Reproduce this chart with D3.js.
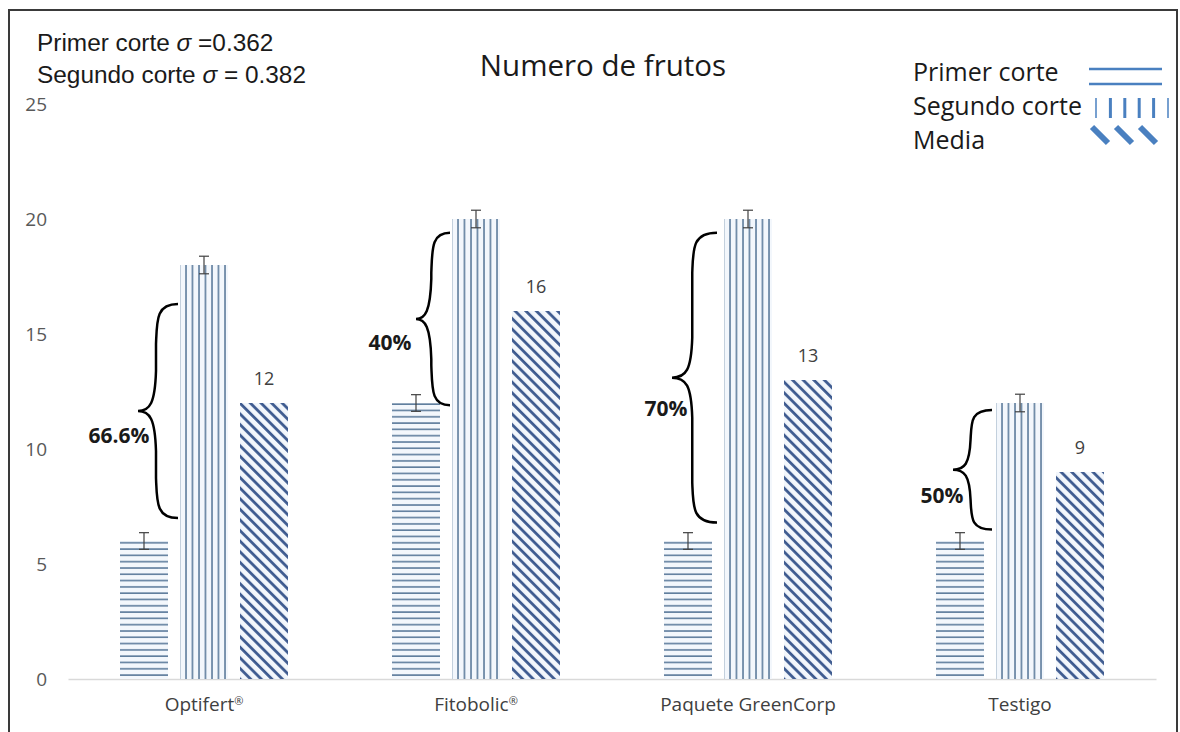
<!DOCTYPE html>
<html>
<head>
<meta charset="utf-8">
<script src="https://cdn.jsdelivr.net/npm/d3@7"></script>
<style>
  body { margin: 0; background: #fff; }
  svg { display: block; }
</style>
</head>
<body>
<div id="chart"></div>
<script>
const categories = ["Optifert®", "Fitobolic®", "Paquete GreenCorp", "Testigo"];
const series = ["Primer corte", "Segundo corte", "Media"];
const primer = [6, 12, 6, 6];
const segundo = [18, 20, 20, 12];
const media = [12, 16, 13, 9];
const errPrimer = 0.362;
const errSegundo = 0.382;
const yTicks = [0, 5, 10, 15, 20, 25];
// curly-brace annotations: top / bottom in data units
const braceTop = [16.3, 19.4, 19.4, 11.7];
const braceBottom = [7.0, 11.9, 6.8, 6.5];
const braceLabels = ["66.6%", "40%", "70%", "50%"];

const W = 1180, H = 732;
const svg = d3.select("#chart").append("svg").attr("width", W).attr("height", H);

const defs = svg.append("defs");
const barColor = "#5f7d9d";
const diagColor = "#3d5a8f";
const bg = "#f3f7fc";

const pH = defs.append("pattern").attr("id", "p-h").attr("patternUnits", "userSpaceOnUse")
  .attr("width", 10).attr("height", 6.3);
pH.append("rect").attr("width", 10).attr("height", 6.3).attr("fill", bg);
pH.append("line").attr("x1", 0).attr("x2", 10).attr("y1", 1).attr("y2", 1)
  .attr("stroke", barColor).attr("stroke-width", 1.6);

const pV = defs.append("pattern").attr("id", "p-v").attr("patternUnits", "userSpaceOnUse")
  .attr("width", 6.5).attr("height", 10);
pV.append("rect").attr("width", 6.5).attr("height", 10).attr("fill", bg);
pV.append("line").attr("x1", 1).attr("x2", 1).attr("y1", 0).attr("y2", 10)
  .attr("stroke", barColor).attr("stroke-width", 1.6);

const pD = defs.append("pattern").attr("id", "p-d").attr("patternUnits", "userSpaceOnUse")
  .attr("width", 7.5).attr("height", 10).attr("patternTransform", "rotate(-45)");
pD.append("rect").attr("width", 7.5).attr("height", 10).attr("fill", bg);
pD.append("line").attr("x1", 1.5).attr("x2", 1.5).attr("y1", 0).attr("y2", 10)
  .attr("stroke", diagColor).attr("stroke-width", 2.8);

const fills = ["url(#p-h)", "url(#p-v)", "url(#p-d)"];

// frame
svg.append("rect").attr("x", 9).attr("y", 10).attr("width", 1168).attr("height", 760)
  .attr("fill", "none").attr("stroke", "#3a3a3a").attr("stroke-width", 2);

const x = d3.scaleBand().domain(categories).range([68, 1156]);
const xs = d3.scaleBand().domain(series).range([46, 226]).paddingInner(0.2).paddingOuter(0.1);
const y = d3.scaleLinear().domain([0, 25]).range([679, 104]);

const font = "'Open Sans', 'Noto Sans', sans-serif";

// y axis labels
svg.append("g").selectAll("text").data(yTicks).join("text")
  .attr("x", 47).attr("y", d => y(d)).attr("dy", "0.35em")
  .attr("text-anchor", "end").attr("font-family", font).attr("font-size", 19)
  .attr("fill", "#595959").text(d => d);

// x axis
const xAxis = d3.axisBottom(x).tickSize(0).tickPadding(19);
const gx = svg.append("g").attr("transform", `translate(0,${y(0)})`).call(xAxis);
gx.select(".domain").attr("stroke", "#d9d9d9").attr("stroke-width", 1.5);
gx.attr("font-size", null);
gx.selectAll("text").attr("font-family", font).style("font-size", "19px").attr("fill", "#404040")
  .each(function (d) {
    const t = d3.select(this);
    if (d.endsWith("®")) {
      t.text(d.slice(0, -1));
      t.append("tspan").style("font-size", "11px").attr("dy", "-0.6em").text("®");
    }
  });

const values = [primer, segundo, media];
const errs = [errPrimer, errSegundo, null];

const groups = svg.append("g").selectAll("g").data(categories).join("g")
  .attr("transform", d => `translate(${x(d)},0)`);

series.forEach((s, si) => {
  groups.append("rect")
    .attr("x", xs(s)).attr("width", xs.bandwidth())
    .attr("y", (d, i) => y(values[si][i]))
    .attr("height", (d, i) => y(0) - y(values[si][i]))
    .attr("fill", fills[si]);
  if (errs[si] !== null) {
    const cx = xs(s) + xs.bandwidth() / 2;
    const eb = groups.append("g").attr("stroke", "#404040").attr("stroke-width", 1.2);
    eb.append("line").attr("x1", cx).attr("x2", cx)
      .attr("y1", (d, i) => y(values[si][i] + errs[si]))
      .attr("y2", (d, i) => y(values[si][i] - errs[si]));
    eb.append("line").attr("x1", cx - 5).attr("x2", cx + 5)
      .attr("y1", (d, i) => y(values[si][i] + errs[si]))
      .attr("y2", (d, i) => y(values[si][i] + errs[si]));
    eb.append("line").attr("x1", cx - 5).attr("x2", cx + 5)
      .attr("y1", (d, i) => y(values[si][i] - errs[si]))
      .attr("y2", (d, i) => y(values[si][i] - errs[si]));
  }
});

// data labels for Media
groups.append("text")
  .attr("x", xs("Media") + xs.bandwidth() / 2)
  .attr("y", (d, i) => y(media[i]) - 18)
  .attr("text-anchor", "middle").attr("font-family", font).attr("font-size", 18)
  .attr("fill", "#404040").text((d, i) => media[i]);

// braces
const braceRight = [110, 110, 105, 108];
const braceWidth = [40, 34, 45, 39];
const labelDx = [-19, -26, -6, -11];
const labelDy = [32, 31, 38, 33];

function bracePath(xr, top, bot, w) {
  const tip = xr - w;
  const xm = xr - w * 0.55;
  const mid = (top + bot) / 2;
  const e = Math.min(40, (bot - top) / 4);
  return `M${xr},${top} C${xm},${top} ${xm + 1},${top + e * 0.4} ${xm},${top + e}
    L${xm},${mid - e} C${xm - 1},${mid - e * 0.2} ${xm - 6},${mid} ${tip},${mid}
    C${xm - 6},${mid} ${xm - 1},${mid + e * 0.2} ${xm},${mid + e}
    L${xm},${bot - e} C${xm + 1},${bot - e * 0.4} ${xm},${bot} ${xr},${bot}`;
}

groups.append("path")
  .attr("d", (d, i) => bracePath(braceRight[i], y(braceTop[i]), y(braceBottom[i]), braceWidth[i]))
  .attr("fill", "none").attr("stroke", "#000").attr("stroke-width", 2.5);

groups.append("text")
  .attr("x", (d, i) => braceRight[i] - braceWidth[i] + labelDx[i])
  .attr("y", (d, i) => (y(braceTop[i]) + y(braceBottom[i])) / 2 + labelDy[i])
  .attr("text-anchor", "middle").attr("font-family", font).attr("font-size", 21)
  .attr("font-weight", "bold").attr("fill", "#1a1a1a").text((d, i) => braceLabels[i]);

// title
svg.append("text").attr("x", 603).attr("y", 76).attr("text-anchor", "middle")
  .attr("font-family", font).attr("font-size", 29.5).attr("fill", "#1a1a1a").text("Numero de frutos");

// sigma notes
const notes = svg.append("g").attr("font-family", "'Liberation Sans', Arial, sans-serif")
  .attr("font-size", 24.4).attr("fill", "#1a1a1a");
const n1 = notes.append("text").attr("x", 37).attr("y", 51);
n1.append("tspan").text("Primer corte ");
n1.append("tspan").attr("font-style", "italic").text("σ");
n1.append("tspan").text(" =0.362");
const n2 = notes.append("text").attr("x", 37).attr("y", 83);
n2.append("tspan").text("Segundo corte ");
n2.append("tspan").attr("font-style", "italic").text("σ");
n2.append("tspan").text(" = 0.382");

// legend
const lg = svg.append("g");
const legendY = [73, 107, 141];
lg.selectAll("text").data(series).join("text")
  .attr("x", 913).attr("y", (d, i) => legendY[i] + 8)
  .attr("font-family", font).attr("font-size", 25).attr("fill", "#1a1a1a").text(d => d);
const lc = "#4a80c0";
lg.append("line").attr("x1", 1089).attr("x2", 1162).attr("y1", 69).attr("y2", 69)
  .attr("stroke", lc).attr("stroke-width", 2.5);
lg.append("line").attr("x1", 1089).attr("x2", 1162).attr("y1", 84).attr("y2", 84)
  .attr("stroke", lc).attr("stroke-width", 2.5);
lg.selectAll(".vd").data(d3.range(6)).join("line").attr("class", "vd")
  .attr("x1", (d, i) => 1096 + i * 14.4).attr("x2", (d, i) => 1096 + i * 14.4)
  .attr("y1", 98).attr("y2", 118).attr("stroke", lc).attr("stroke-width", d => (d === 0 || d === 5) ? 1.5 : 3);
lg.selectAll(".dd").data(d3.range(3)).join("line").attr("class", "dd")
  .attr("x1", (d, i) => 1092 + i * 24).attr("x2", (d, i) => 1108 + i * 24)
  .attr("y1", 127).attr("y2", 143).attr("stroke", lc).attr("stroke-width", 6);
</script>
</body>
</html>
